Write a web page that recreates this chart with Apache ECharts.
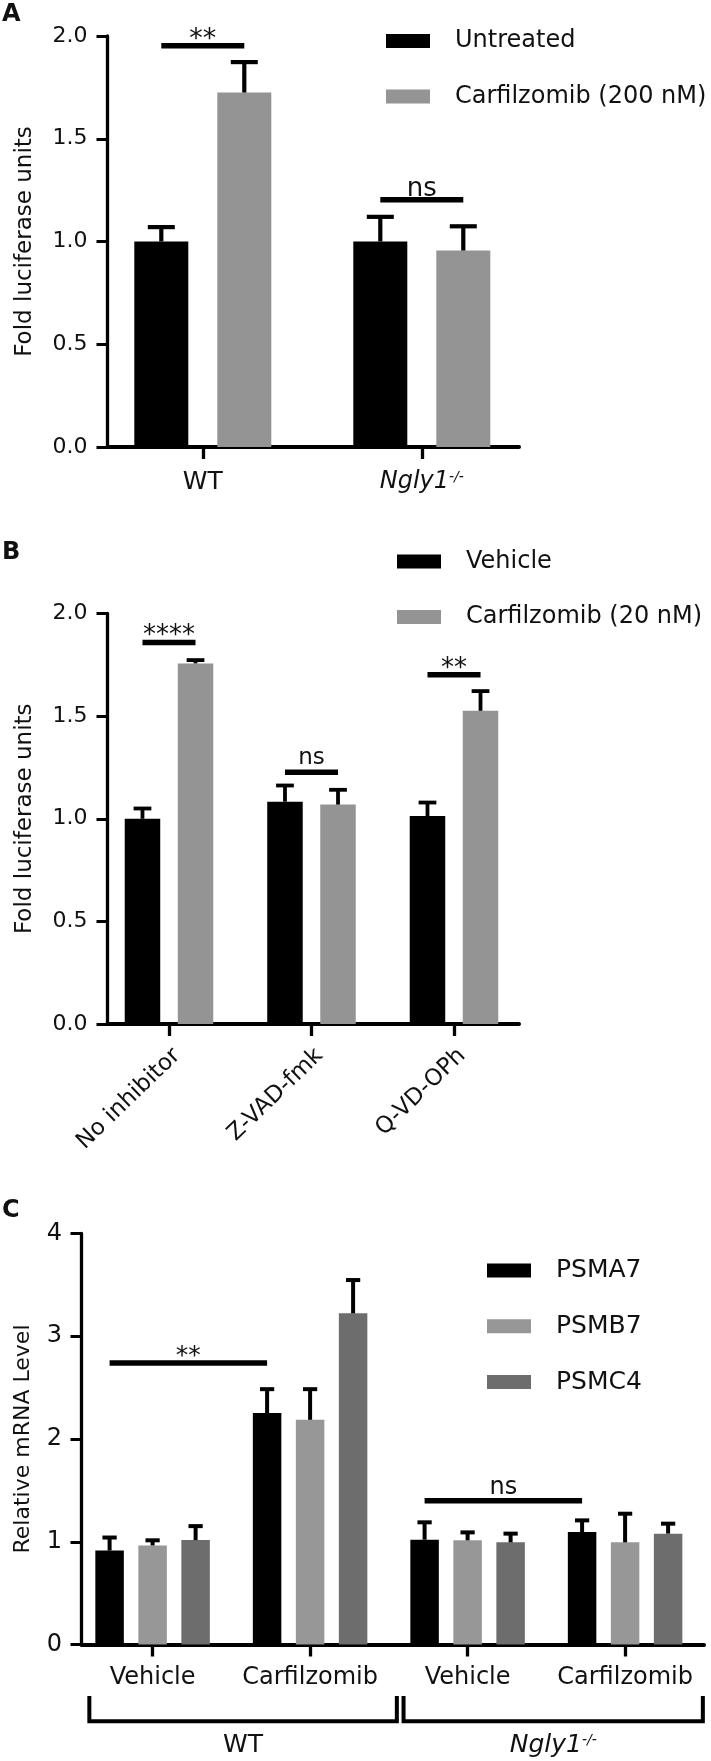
<!DOCTYPE html>
<html><head><meta charset="utf-8">
<script src="https://cdn.jsdelivr.net/npm/echarts@6/dist/echarts.min.js"></script>
<style>html,body{margin:0;padding:0;background:#fff}#c{width:711px;height:1761px}</style>
</head><body><div id="c"></div>
<script>
// ---------------- DATA ----------------
// Panel A
const catsA = ['WT', 'Ngly1-/-'];
const namesA = ['Untreated', 'Carfilzomib (200 nM)'];
const untreatedA = [1.00, 1.00];
const untreatedErrA = [0.07, 0.12];
const carfA = [1.725, 0.956];
const carfErrA = [0.148, 0.118];
const yTicksA = [0, 0.5, 1.0, 1.5, 2.0];
const sigA = [[0, 0, 0, 1, 1.952], [1, 0, 1, 1, 1.203]]; // [cat1, series1, cat2, series2, level]
const sigTextA = ['**', 'ns'];

// Panel B
const catsB = ['No inhibitor', 'Z-VAD-fmk', 'Q-VD-OPh'];
const namesB = ['Vehicle', 'Carfilzomib (20 nM)'];
const vehicleB = [1.00, 1.083, 1.013];
const vehicleErrB = [0.05, 0.079, 0.066];
const carfB = [1.757, 1.069, 1.526];
const carfErrB = [0.016, 0.072, 0.096];
const yTicksB = [0, 0.5, 1.0, 1.5, 2.0];
const sigB = [[0, 0, 0, 1, 1.859], [1, 0, 1, 1, 1.227], [2, 0, 2, 1, 1.701]];
const sigTextB = ['****', 'ns', '**'];

// Panel C
const catsC = ['Vehicle', 'Carfilzomib', 'Vehicle', 'Carfilzomib'];
const namesC = ['PSMA7', 'PSMB7', 'PSMC4'];
const psma7C = [0.914, 2.252, 1.020, 1.095];
const psma7ErrC = [0.127, 0.233, 0.169, 0.113];
const psmb7C = [0.964, 2.187, 1.014, 0.994];
const psmb7ErrC = [0.050, 0.298, 0.077, 0.279];
const psmc4C = [1.016, 3.223, 0.994, 1.079];
const psmc4ErrC = [0.136, 0.324, 0.085, 0.097];
const yTicksC = [0, 1, 2, 3, 4];
const sigC = [[0, 0, 1, 0, 2.740], [2, 0, 3, 0, 1.400]];
const sigTextC = ['**', 'ns'];
const groupsC = [[0, 1], [2, 3]];
const groupNamesC = ['WT', 'Ngly1-/-'];

// ---------------- STYLE ----------------
const FF = 'DejaVu Sans';
const TC = '#111';
const AX = '#000';
const colBlack = '#000000';
const colGrayA = '#949494';
const colLight = '#979797';
const colDark = '#6d6d6d';
const richNgly = (fs, sfs) => ({
  it: {fontStyle: 'italic', fontSize: fs, color: TC, fontFamily: FF},
  sup: {fontStyle: 'italic', fontSize: sfs, color: TC, fontFamily: FF, verticalAlign: 'top'}
});
const fmtCat = v => v === 'Ngly1-/-' ? '{it|Ngly1}{sup|-/-}' : v;

function barOffset(n, s, w, g) {
  const total = n * w + (n - 1) * w * g;
  return -total / 2 + w / 2 + s * w * (1 + g);
}

function errSeries(xi, vals, errs, n, s, w, g, lw) {
  return {
    type: 'custom', xAxisIndex: xi, yAxisIndex: xi, silent: true, z: 5,
    encode: {x: 0, y: 1},
    data: vals.map((v, i) => [i, v, errs[i]]),
    renderItem: function (params, api) {
      const c = api.value(0), v = api.value(1), e = api.value(2);
      const b = api.coord([c, v]);
      const t = api.coord([c, v + e]);
      const x = b[0] + barOffset(n, s, w, g);
      return {type: 'group', children: [
        {type: 'line', shape: {x1: x, y1: b[1], x2: x, y2: t[1]}, style: {stroke: AX, lineWidth: lw}},
        {type: 'line', shape: {x1: x - w / 4, y1: t[1], x2: x + w / 4, y2: t[1]}, style: {stroke: AX, lineWidth: lw}}
      ]};
    }
  };
}

function sigSeries(xi, sig, texts, n, w, g, fsStar, fsNs, nsOff) {
  return {
    type: 'custom', xAxisIndex: xi, yAxisIndex: xi, silent: true, z: 6,
    encode: {x: [0, 2], y: 4},
    data: sig,
    renderItem: function (params, api) {
      const p1 = api.coord([api.value(0), api.value(4)]);
      const p2 = api.coord([api.value(2), api.value(4)]);
      const x1 = p1[0] + barOffset(n, api.value(1), w, g);
      const x2 = p2[0] + barOffset(n, api.value(3), w, g);
      const txt = texts[params.dataIndex];
      const isNs = txt === 'ns';
      const fs = isNs ? fsNs : fsStar;
      return {type: 'group', children: [
        {type: 'line', shape: {x1: x1, y1: p1[1], x2: x2, y2: p1[1]}, style: {stroke: AX, lineWidth: 5.5}},
        {type: 'text', x: (x1 + x2) / 2, y: p1[1] - (isNs ? nsOff : 6),
         style: {text: txt, font: fs + 'px "' + FF + '"', fill: TC, align: 'center', verticalAlign: 'middle'}}
      ]};
    }
  };
}

function bracketSeries(xi, groups, names, pads) {
  return {
    type: 'custom', xAxisIndex: xi, yAxisIndex: xi, silent: true, z: 6,
    encode: {x: [0, 1], y: 2},
    data: groups.map(gp => [gp[0], gp[1], 0]),
    renderItem: function (params, api) {
      const band = api.size([1, 0])[0];
      const a = api.coord([api.value(0), 0]);
      const b = api.coord([api.value(1), 0]);
      const pd = pads[params.dataIndex];
      const xl = a[0] - band / 2 + pd[0];
      const xr = b[0] + band / 2 + pd[1];
      const y0 = a[1] + 51.5, y1 = a[1] + 76.7;
      const nm = names[params.dataIndex];
      return {type: 'group', children: [
        {type: 'polyline', shape: {points: [[xl, y0], [xl, y1], [xr, y1], [xr, y0]]}, style: {stroke: AX, lineWidth: 4, fill: null}},
        {type: 'text', x: (xl + xr) / 2, y: a[1] + 101,
         style: {text: fmtCat(nm), font: '25px "' + FF + '"', fill: TC, align: 'center', verticalAlign: 'middle', rich: richNgly(25, 14)}}
      ]};
    }
  };
}

const gridBase = {containLabel: false, outerBoundsMode: 'none'};
const grids = [
  Object.assign({left: 107.5, top: 36, width: 411.5, height: 411}, gridBase),
  Object.assign({left: 93.3, top: 36, width: 438, height: 411}, gridBase),
  Object.assign({left: 107.5, top: 613.5, width: 411.5, height: 410.5}, gridBase),
  Object.assign({left: 97.75, top: 613.5, width: 427.5, height: 410.5}, gridBase),
  Object.assign({left: 81.5, top: 1233.5, width: 622.5, height: 411}, gridBase),
  Object.assign({left: 73.85, top: 1233.5, width: 630, height: 411}, gridBase)
];

function axisX(gi) {
  return {gridIndex: gi, type: 'value', min: 0, max: 1,
    axisLine: {show: true, onZero: false, lineStyle: {color: AX, width: 4}},
    axisTick: {show: false}, axisLabel: {show: false}, splitLine: {show: false}};
}
function catX(gi, cats, label) {
  return {gridIndex: gi, type: 'category', data: cats,
    axisLine: {show: false, onZero: false},
    axisTick: {show: true, alignWithLabel: true, length: 12, lineStyle: {color: AX, width: 3.3}},
    axisLabel: Object.assign({interval: 0, color: TC, fontFamily: FF}, label),
    splitLine: {show: false}};
}
function valY(gi, ticks, fmt, name, nameGap, nameFs, labelFs, margin) {
  return {gridIndex: gi, type: 'value', min: ticks[0], max: ticks[ticks.length - 1], interval: ticks[1] - ticks[0],
    axisLine: {show: true, onZero: false, lineStyle: {color: AX, width: 3.3}},
    axisTick: {show: true, length: 11, lineStyle: {color: AX, width: 3}},
    axisLabel: {margin: margin, fontSize: labelFs, color: TC, fontFamily: FF, formatter: fmt},
    splitLine: {show: false},
    name: name, nameLocation: 'middle', nameGap: nameGap, nameRotate: 90,
    nameTextStyle: {fontSize: nameFs, color: TC, fontFamily: FF}};
}
function hidY(gi, ticks) {
  return {gridIndex: gi, type: 'value', min: ticks[0], max: ticks[ticks.length - 1], show: false, splitLine: {show: false}};
}

const fmt1 = v => v.toFixed(1);
const fmt0 = v => String(Math.round(v));

const xAxes = [
  axisX(0),
  catX(1, catsA, {margin: 23, fontSize: 25, formatter: fmtCat, rich: richNgly(24, 14)}),
  axisX(2),
  catX(3, catsB, {margin: 20, fontSize: 23, rotate: 44, align: 'right', verticalAlign: 'top'}),
  axisX(4),
  catX(5, catsC, {margin: 21, fontSize: 24})
];
const yAxes = [
  valY(0, yTicksA, fmt1, 'Fold luciferase units', 71, 23, 22, 20),
  hidY(1, yTicksA),
  valY(2, yTicksB, fmt1, 'Fold luciferase units', 71, 23, 22, 20),
  hidY(3, yTicksB),
  valY(4, yTicksC, fmt0, 'Relative mRNA Level', 47, 22, 24, 19.5),
  hidY(5, yTicksC)
];

const WA = 54, GA = 0.537, WB = 35.5, GB = 0.494, WC = 28.5, GC = 0.509;
function bar(xi, name, data, color, w, g) {
  return {type: 'bar', name: name, xAxisIndex: xi, yAxisIndex: xi, data: data,
    barWidth: w, barGap: (g * 100) + '%', itemStyle: {color: color}, silent: true, z: 3};
}

const series = [
  bar(1, namesA[0], untreatedA, colBlack, WA, GA),
  bar(1, namesA[1], carfA, colGrayA, WA, GA),
  errSeries(1, untreatedA, untreatedErrA, 2, 0, WA, GA, 4.2),
  errSeries(1, carfA, carfErrA, 2, 1, WA, GA, 4.2),
  sigSeries(1, sigA, sigTextA, 2, WA, GA, 27, 26, 10.5),

  bar(3, namesB[0], vehicleB, colBlack, WB, GB),
  bar(3, namesB[1], carfB, colGrayA, WB, GB),
  errSeries(3, vehicleB, vehicleErrB, 2, 0, WB, GB, 3.8),
  errSeries(3, carfB, carfErrB, 2, 1, WB, GB, 3.8),
  sigSeries(3, sigB, sigTextB, 2, WB, GB, 26, 23, 14.5),

  bar(5, namesC[0], psma7C, colBlack, WC, GC),
  bar(5, namesC[1], psmb7C, colLight, WC, GC),
  bar(5, namesC[2], psmc4C, colDark, WC, GC),
  errSeries(5, psma7C, psma7ErrC, 3, 0, WC, GC, 4),
  errSeries(5, psmb7C, psmb7ErrC, 3, 1, WC, GC, 4),
  errSeries(5, psmc4C, psmc4ErrC, 3, 2, WC, GC, 4),
  sigSeries(5, sigC, sigTextC, 3, WC, GC, 25, 24, 12.8),
  bracketSeries(5, groupsC, groupNamesC, [[15.5, 8], [14.7, -1]])
];

function legend(names, left, top, fs, gap) {
  return {data: names, orient: 'vertical', left: left, top: top, padding: 0,
    itemWidth: 44, itemHeight: 14, itemGap: gap, icon: 'rect', selectedMode: false,
    textStyle: {fontSize: fs, lineHeight: fs, color: TC, fontFamily: FF, padding: [2, 0, 0, 20]}};
}

const titleStyle = {fontSize: 24, fontWeight: 'bold', color: TC, fontFamily: FF};
const option = {
  animation: false,
  textStyle: {fontFamily: FF},
  title: [
    {text: 'A', left: 2, top: 3, padding: 0, textStyle: titleStyle},
    {text: 'B', left: 2, top: 541, padding: 0, textStyle: titleStyle},
    {text: 'C', left: 2, top: 1199, padding: 0, textStyle: titleStyle}
  ],
  legend: [
    legend(namesA, 386, 28, 24, 29.4),
    legend(namesB, 397, 548.5, 24, 29.5),
    legend(namesC, 487, 1257, 25, 28.8)
  ],
  grid: grids,
  xAxis: xAxes,
  yAxis: yAxes,
  series: series
};

const chart = echarts.init(document.getElementById('c'), null, {renderer: 'canvas', width: 711, height: 1761});
chart.setOption(option);
</script>
</body></html>
